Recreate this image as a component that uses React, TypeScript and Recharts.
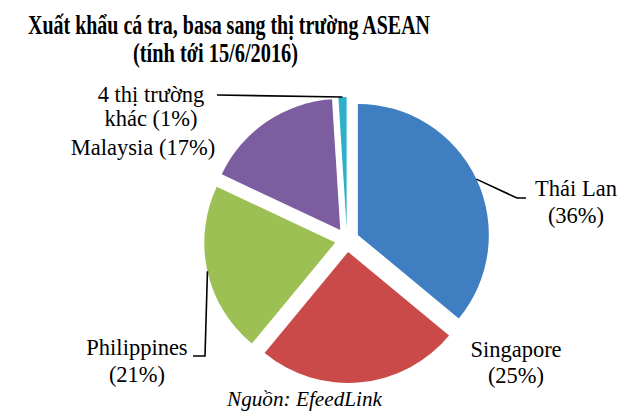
import React from "react";
import { PieChart, Pie, Cell, Sector } from "recharts";

const markets = ["Thái Lan", "Singapore", "Philippines", "Malaysia", "4 thị trường khác"];
const shares = [36, 25, 21, 17, 1];
const colors = ["#3E7EC1", "#C94A48", "#9CC053", "#7C5DA0", "#2FAFC9"];

const data = markets.map((name, i) => ({ name, value: shares[i] }));

const RAD = Math.PI / 180;
const EXPLODE = 12;
const FONT = "Liberation Serif, Times New Roman, serif";

// where each slice's label sits (manual placement like the original)
type LabelBox = {
  x: number;
  y: number;
  gap: number;
  breakAt: number;
  leader: number[][];
};

const labelLayout: LabelBox[] = [
  { x: 576, y: 196, gap: 27, breakAt: 2, leader: [[517, 198], [526, 198]] },
  { x: 516, y: 357, gap: 26, breakAt: 1, leader: [] },
  { x: 137, y: 355, gap: 27, breakAt: 1, leader: [[205, 356], [193, 356]] },
  { x: 143, y: 155, gap: 0, breakAt: 0, leader: [] },
  { x: 151, y: 102, gap: 24, breakAt: 3, leader: [[217, 95]] },
];

const renderSlice = (props: any) => {
  const { cx, cy, outerRadius, startAngle, endAngle, midAngle, index } = props;
  const dx = Math.cos(-midAngle * RAD);
  const dy = Math.sin(-midAngle * RAD);
  const ox = cx + EXPLODE * dx;
  const oy = cy + EXPLODE * dy;
  const box = labelLayout[index];
  const words = `${markets[index]} (${shares[index]}%)`.split(" ");
  const lines = box.breakAt
    ? [words.slice(0, box.breakAt).join(" "), words.slice(box.breakAt).join(" ")]
    : [words.join(" ")];
  const ax = ox + outerRadius * dx;
  const ay = oy + outerRadius * dy;
  const pts = [[ax, ay], ...box.leader].map((p) => p.join(",")).join(" ");

  return (
    <g>
      <Sector
        cx={ox}
        cy={oy}
        innerRadius={0}
        outerRadius={outerRadius}
        startAngle={startAngle}
        endAngle={endAngle}
        fill={colors[index]}
        stroke="none"
      />
      {box.leader.length > 0 && (
        <polyline points={pts} fill="none" stroke="#000" strokeWidth={1.6} />
      )}
      <text
        textAnchor="middle"
        fontFamily={FONT}
        fontSize={22.5}
        fill="#000"
        stroke="none"
      >
        {lines.map((l, k) => (
          <tspan key={k} x={box.x} y={box.y + k * box.gap}>
            {l}
          </tspan>
        ))}
      </text>
    </g>
  );
};

export default function App() {
  return (
    <div
      style={{
        position: "absolute",
        left: 0,
        top: 0,
        width: 640,
        height: 419,
        background: "#fff",
        overflow: "hidden",
      }}
    >
      <PieChart width={640} height={419} margin={{ top: 0, right: 0, bottom: 0, left: 0 }}>
        <Pie
          data={data}
          dataKey="value"
          nameKey="name"
          cx={347}
          cy={240}
          outerRadius={131}
          startAngle={90}
          endAngle={-270}
          stroke="none"
          labelLine={false}
          label={renderSlice}
          isAnimationActive={false}
        >
          {data.map((d) => (
            <Cell key={d.name} fill="transparent" />
          ))}
        </Pie>
      </PieChart>
      <svg
        width={640}
        height={419}
        style={{ position: "absolute", left: 0, top: 0, pointerEvents: "none" }}
      >
        <text
          x={28}
          y={34}
          fontFamily={FONT}
          fontWeight="bold"
          fontSize={28}
          textLength={402}
          lengthAdjust="spacingAndGlyphs"
        >
          Xuất khẩu cá tra, basa sang thị trường ASEAN
        </text>
        <text
          x={133}
          y={62}
          fontFamily={FONT}
          fontWeight="bold"
          fontSize={28}
          textLength={165}
          lengthAdjust="spacingAndGlyphs"
        >
          (tính tới 15/6/2016)
        </text>
        <text
          x={227}
          y={406}
          fontFamily={FONT}
          fontStyle="italic"
          fontSize={21}
          fill="#000"
          textLength={155}
          lengthAdjust="spacingAndGlyphs"
        >
          Nguồn: EfeedLink
        </text>
      </svg>
    </div>
  );
}
